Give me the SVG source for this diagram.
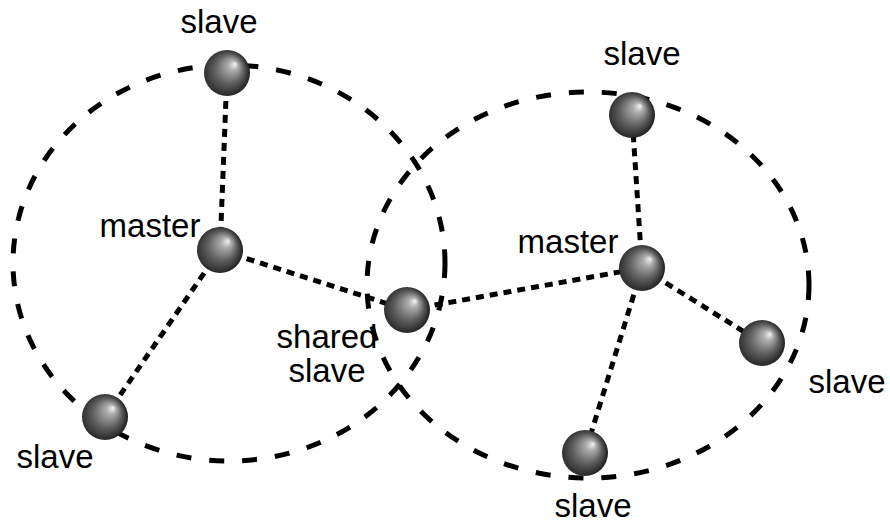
<svg xmlns="http://www.w3.org/2000/svg" width="890" height="529" viewBox="0 0 890 529">
<defs>
<radialGradient id="ball" cx="0.45" cy="0.5" r="0.55" fx="0.68" fy="0.3">
<stop offset="0" stop-color="#f4f4f4"/>
<stop offset="0.2" stop-color="#acacac"/>
<stop offset="0.58" stop-color="#5e5e5e"/>
<stop offset="1" stop-color="#1c1c1c"/>
</radialGradient>
<style>
.cl{fill:none;stroke:#000;stroke-width:5;stroke-dasharray:15 18}
.ln{fill:none;stroke:#000;stroke-width:5;stroke-dasharray:8 6}
.b{fill:url(#ball)}
text{font-family:"Liberation Sans",Arial,sans-serif;font-size:33px;fill:#000;text-anchor:middle}
</style>
</defs>
<rect width="890" height="529" fill="#fff"/>
<g id="clusters">
<ellipse class="cl" cx="229" cy="263" rx="216" ry="198"/>
<ellipse class="cl" cx="588" cy="285" rx="221" ry="193"/>
</g>
<g id="connectors">
<line class="ln" x1="227" y1="73" x2="220" y2="250"/>
<line class="ln" x1="220" y1="250" x2="105" y2="417"/>
<line class="ln" x1="220" y1="250" x2="407" y2="310"/>
<line class="ln" x1="407" y1="310" x2="642" y2="268"/>
<line class="ln" x1="642" y1="268" x2="632" y2="115"/>
<line class="ln" x1="642" y1="268" x2="762" y2="343"/>
<line class="ln" x1="642" y1="268" x2="585" y2="453"/>
</g>
<g id="slave-top-left"><circle class="b" cx="227" cy="73" r="23"/><text x="219" y="33">slave</text></g>
<g id="master-left"><circle class="b" cx="220" cy="250" r="23"/><text x="150" y="237">master</text></g>
<g id="slave-bottom-left"><circle class="b" cx="105" cy="417" r="23"/><text x="55" y="468">slave</text></g>
<g id="shared-slave"><circle class="b" cx="407" cy="310" r="23"/><text x="327" y="348">shared</text><text x="327" y="382">slave</text></g>
<g id="master-right"><circle class="b" cx="642" cy="268" r="23"/><text x="568" y="253">master</text></g>
<g id="slave-top-right"><circle class="b" cx="632" cy="115" r="23"/><text x="642" y="65">slave</text></g>
<g id="slave-right"><circle class="b" cx="762" cy="343" r="23"/><text x="847" y="393">slave</text></g>
<g id="slave-bottom"><circle class="b" cx="585" cy="453" r="23"/><text x="593" y="517">slave</text></g>
</svg>
